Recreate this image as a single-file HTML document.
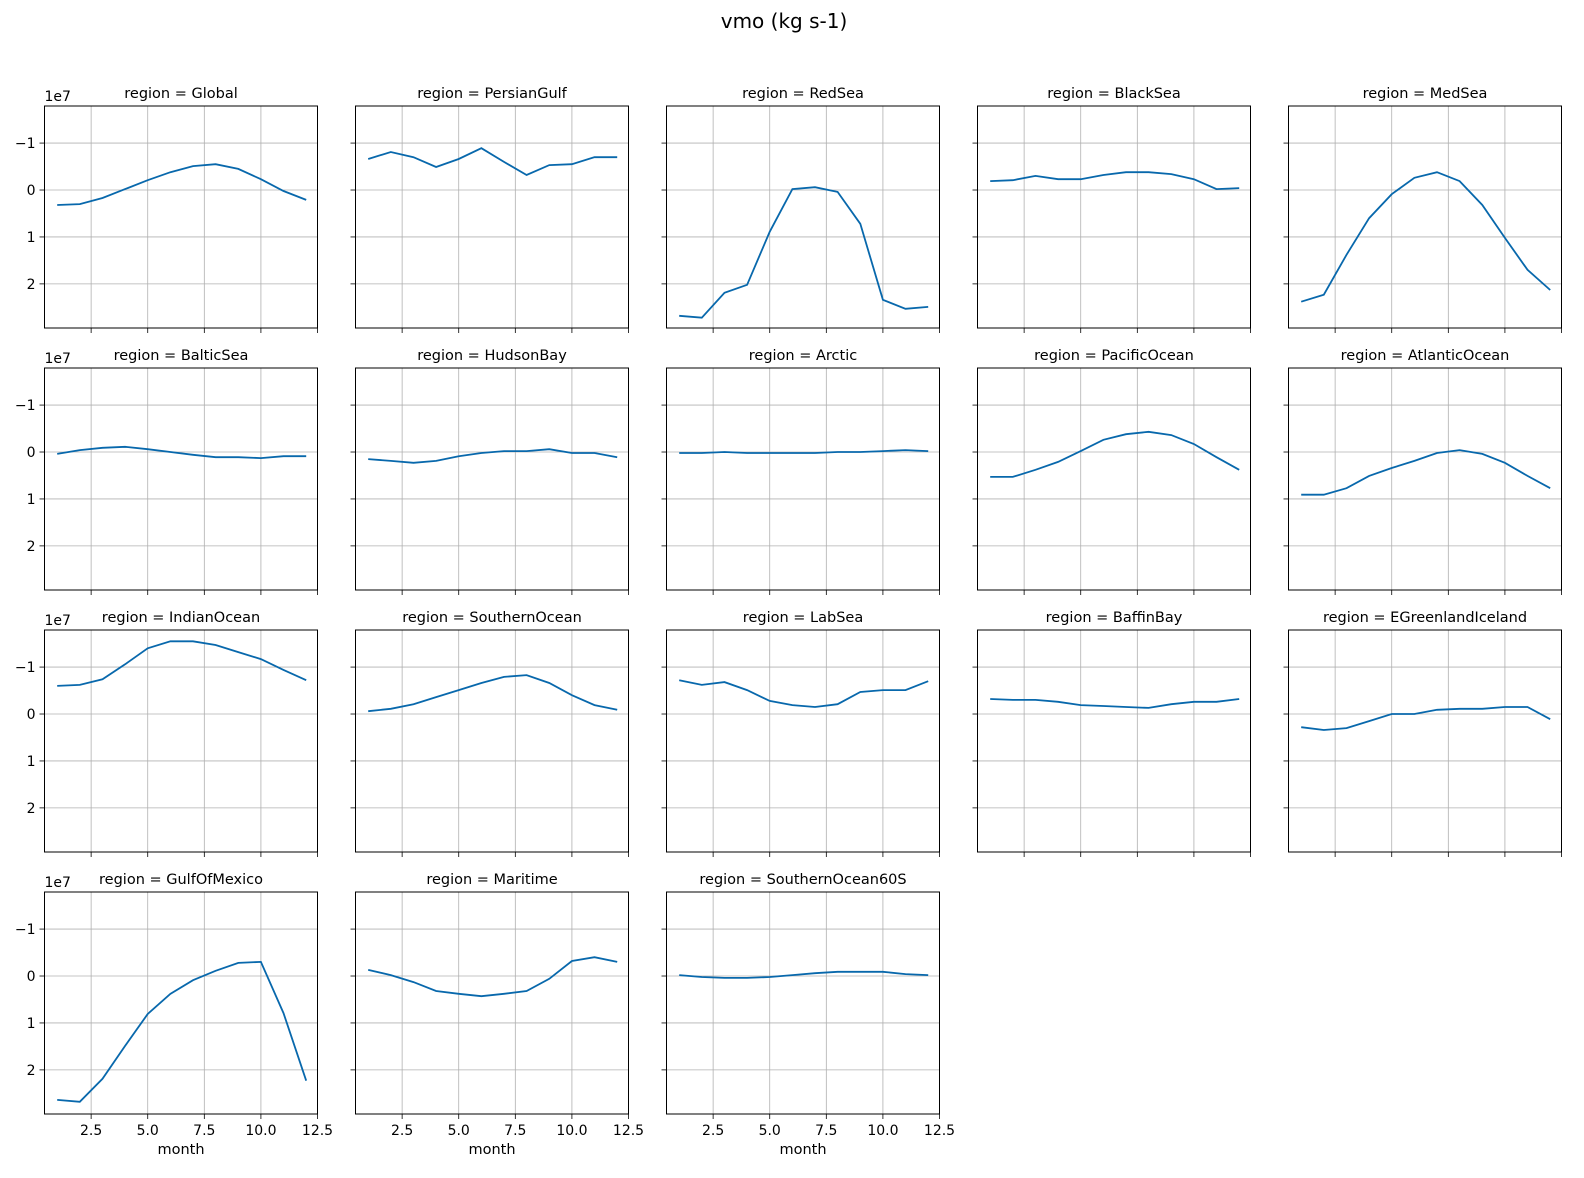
<!DOCTYPE html>
<html><head><meta charset="utf-8">
<style>
html,body{margin:0;padding:0;background:#fff;overflow:hidden;width:1584px;height:1178px;}
svg{display:block;}
svg text{font-family:"DejaVu Sans","Liberation Sans",sans-serif;fill:#000;}
</style></head>
<body>
<svg id="chart" width="1584" height="1178" viewBox="0 0 1584 1178" xmlns="http://www.w3.org/2000/svg">
<text x="784" y="28" font-size="20" text-anchor="middle">vmo (kg s-1)</text>
</svg>
<script>
const regions = ["Global","PersianGulf","RedSea","BlackSea","MedSea","BalticSea","HudsonBay","Arctic","PacificOcean","AtlanticOcean","IndianOcean","SouthernOcean","LabSea","BaffinBay","EGreenlandIceland","GulfOfMexico","Maritime","SouthernOcean60S"];
const months = [1,2,3,4,5,6,7,8,9,10,11,12];
const sGlobal = [0.32,0.30,0.17,-0.02,-0.21,-0.38,-0.51,-0.55,-0.45,-0.23,0.02,0.21];
const sPersianGulf = [-0.66,-0.81,-0.70,-0.49,-0.66,-0.89,-0.60,-0.32,-0.53,-0.55,-0.70,-0.70];
const sRedSea = [2.68,2.72,2.19,2.02,0.89,-0.02,-0.06,0.04,0.72,2.34,2.53,2.49];
const sBlackSea = [-0.19,-0.21,-0.30,-0.23,-0.23,-0.32,-0.38,-0.38,-0.34,-0.23,-0.02,-0.04];
const sMedSea = [2.38,2.23,1.38,0.60,0.09,-0.26,-0.38,-0.19,0.32,1.02,1.70,2.13];
const sBalticSea = [0.04,-0.04,-0.09,-0.11,-0.06,0,0.06,0.11,0.11,0.13,0.09,0.09];
const sHudsonBay = [0.15,0.19,0.23,0.19,0.09,0.02,-0.02,-0.02,-0.06,0.02,0.02,0.11];
const sArctic = [0.02,0.02,0.0,0.02,0.02,0.02,0.02,0.0,0.0,-0.02,-0.04,-0.02];
const sPacificOcean = [0.53,0.53,0.38,0.21,-0.02,-0.26,-0.38,-0.43,-0.36,-0.17,0.11,0.38];
const sAtlanticOcean = [0.91,0.91,0.77,0.51,0.34,0.19,0.02,-0.04,0.04,0.23,0.51,0.77];
const sIndianOcean = [-0.60,-0.62,-0.74,-1.06,-1.40,-1.55,-1.55,-1.47,-1.32,-1.17,-0.94,-0.72];
const sSouthernOcean = [-0.06,-0.11,-0.21,-0.36,-0.51,-0.66,-0.79,-0.83,-0.66,-0.40,-0.19,-0.09];
const sLabSea = [-0.72,-0.62,-0.68,-0.51,-0.28,-0.19,-0.15,-0.21,-0.47,-0.51,-0.51,-0.70];
const sBaffinBay = [-0.32,-0.30,-0.30,-0.26,-0.19,-0.17,-0.15,-0.13,-0.21,-0.26,-0.26,-0.32];
const sEGreenlandIceland = [0.28,0.34,0.30,0.15,0,0,-0.09,-0.11,-0.11,-0.15,-0.15,0.11];
const sGulfOfMexico = [2.64,2.68,2.19,1.49,0.81,0.38,0.09,-0.11,-0.28,-0.30,0.79,2.23];
const sMaritime = [-0.13,-0.02,0.13,0.32,0.38,0.43,0.38,0.32,0.06,-0.32,-0.40,-0.30];
const sSouthernOcean60S = [-0.02,0.02,0.04,0.04,0.02,-0.02,-0.06,-0.09,-0.09,-0.09,-0.04,-0.02];
const series = [sGlobal,sPersianGulf,sRedSea,sBlackSea,sMedSea,sBalticSea,sHudsonBay,sArctic,sPacificOcean,sAtlanticOcean,sIndianOcean,sSouthernOcean,sLabSea,sBaffinBay,sEGreenlandIceland,sGulfOfMexico,sMaritime,sSouthernOcean60S];
const yTicks = [-1,0,1,2];
const yTickLabels = ["\u22121","0","1","2"];
const xTicks = [2.5,5,7.5,10,12.5];
const xTickLabels = ["2.5","5.0","7.5","10.0","12.5"];

const NS="http://www.w3.org/2000/svg";
const svg=document.getElementById('chart');
const W=273,H=222,colX=[44.5,355.5,666.5,977.5,1288.5],rowY=[106,368,630,892];
const xMin=0.44,xMax=12.5,yMin=-1.79,yMax=2.94;
function mk(t,a,p){const e=document.createElementNS(NS,t);for(const k in a)e.setAttribute(k,a[k]);(p||svg).appendChild(e);return e;}
regions.forEach((name,i)=>{
  const c=i%5,r=Math.floor(i/5);
  const L=colX[c],T=rowY[r];
  const sx=v=>L+(v-xMin)/(xMax-xMin)*W;
  const sy=v=>T+(v-yMin)/(yMax-yMin)*H;
  const g=mk('g',{});
  
  
  xTicks.forEach((t,k)=>{
    const x=sx(t);
    if(x<=L+W+0.5){
      const gl=mk('line',{x1:x,x2:x,y1:T,y2:T+H,stroke:'#b0b0b0','stroke-width':0.8},g);
      
      
    }
    const tk=mk('line',{x1:x,x2:x,y1:T+H,y2:T+H+5,stroke:'#000','stroke-width':0.8},g);
    
    
    if(r===3){
      const tl=mk('text',{x:x,y:T+H+21,'font-size':14,'text-anchor':'middle'},g);
      tl.textContent=xTickLabels[k];
      
      
    }
  });
  yTicks.forEach((t,k)=>{
    const y=sy(t);
    const gl=mk('line',{x1:L,x2:L+W,y1:y,y2:y,stroke:'#b0b0b0','stroke-width':0.8},g);
    
    
    const tk=mk('line',{x1:L-5,x2:L,y1:y,y2:y,stroke:'#000','stroke-width':0.8},g);
    
    
    if(c===0){
      const tl=mk('text',{x:L-9,y:y+5,'font-size':14,'text-anchor':'end'},g);
      tl.textContent=yTickLabels[k];
      
      
    }
  });
  const pts=months.map((m,k)=>sx(m).toFixed(1)+','+sy(series[i][k]).toFixed(1)).join(' ');
  const pl=mk('polyline',{points:pts,fill:'none',stroke:'#0868ac','stroke-width':1.8},g);
  
  
  const fr=mk('rect',{x:L,y:T,width:W,height:H,fill:'none',stroke:'#000','stroke-width':1},g);
  
  
  const ti=mk('text',{x:L+W/2,y:T-8,'font-size':14.5,'text-anchor':'middle'},g);
  ti.textContent='region = '+name;
  
  
  if(c===0){
    const off=mk('text',{x:L,y:T-5,'font-size':14,'text-anchor':'start'},g);
    off.textContent='1e7';
    
    
  }
  if(r===3){
    const xl=mk('text',{x:L+W/2,y:T+H+40,'font-size':14.5,'text-anchor':'middle'},g);
    xl.textContent='month';
    
    
  }
});
</script>
</body></html>
